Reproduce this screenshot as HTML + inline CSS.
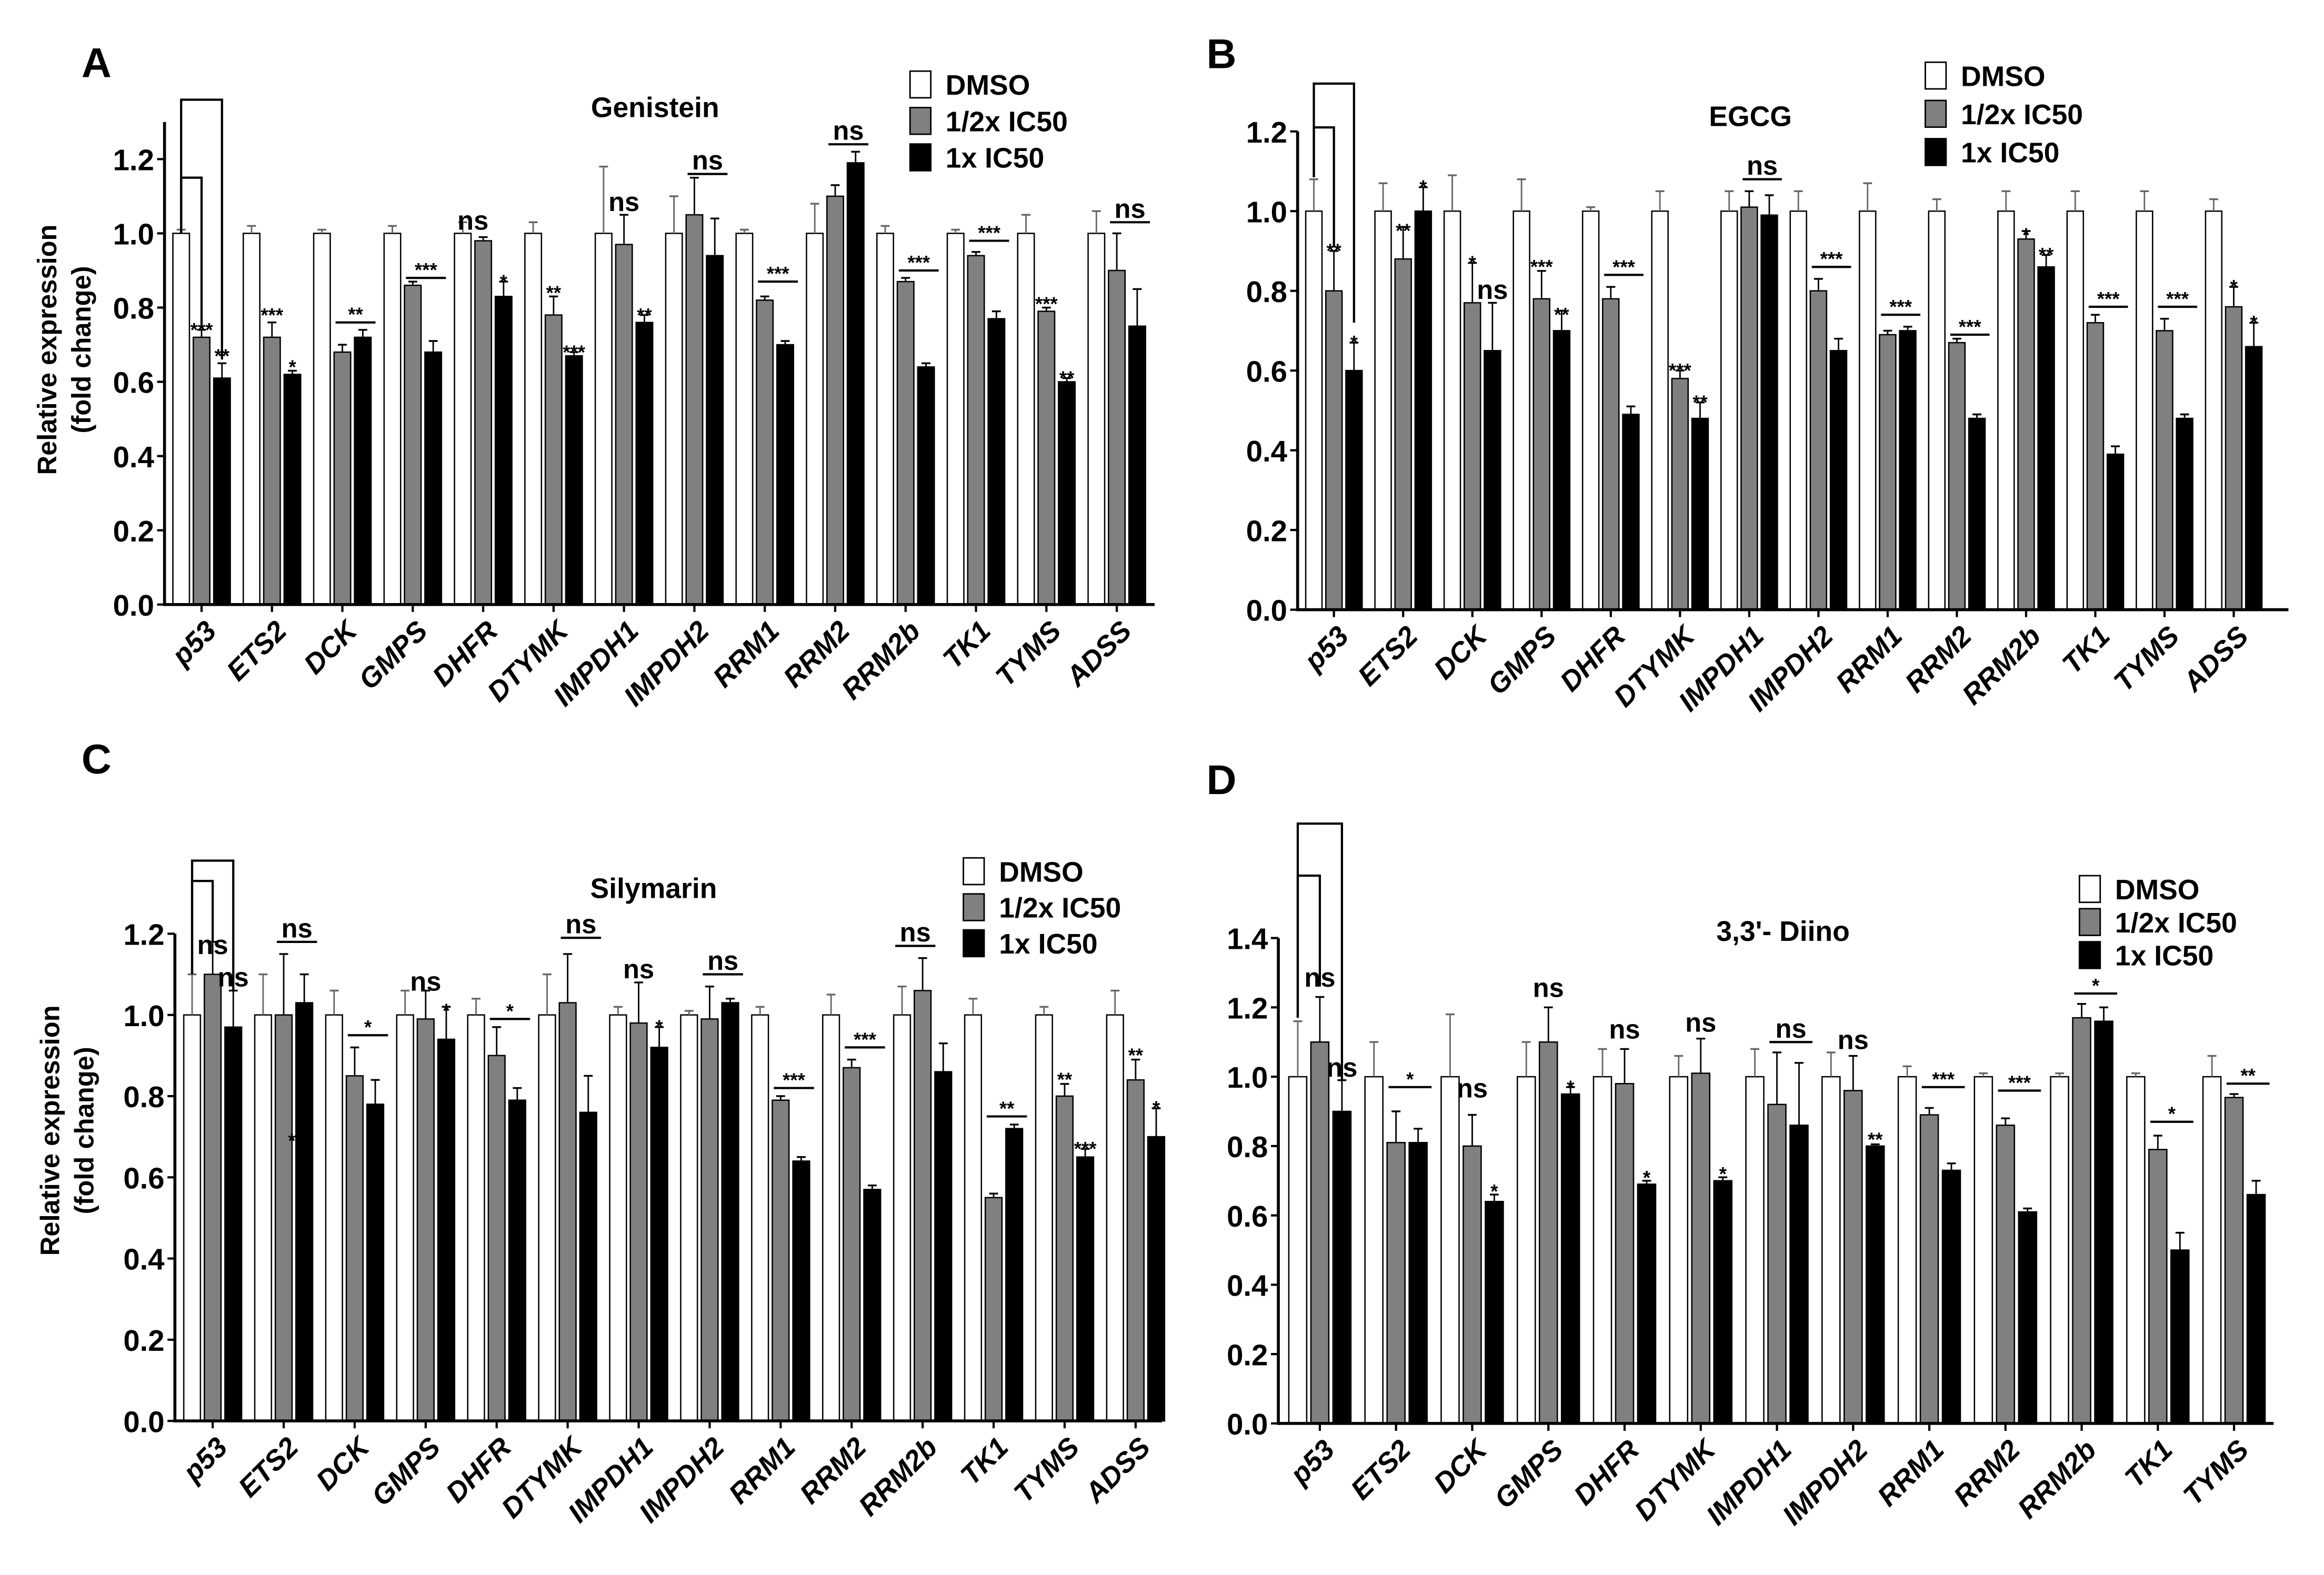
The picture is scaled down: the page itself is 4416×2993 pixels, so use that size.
<!DOCTYPE html>
<html><head><meta charset="utf-8">
<style>
html,body{margin:0;padding:0;background:#fff;}
svg{display:block;}
text{font-family:"Liberation Sans",Arial,sans-serif;font-weight:bold;fill:#000;}
</style></head>
<body>
<svg id="fig" width="4416" height="2993" viewBox="0 0 1568 1063" preserveAspectRatio="none" xmlns="http://www.w3.org/2000/svg">
<rect x="0" y="0" width="1568" height="1063" fill="#fff"/>
</svg>
<script>
// ---------- Data ----------
const genes14 = ["p53","ETS2","DCK","GMPS","DHFR","DTYMK","IMPDH1","IMPDH2","RRM1","RRM2","RRM2b","TK1","TYMS","ADSS"];
const genes13 = ["p53","ETS2","DCK","GMPS","DHFR","DTYMK","IMPDH1","IMPDH2","RRM1","RRM2","RRM2b","TK1","TYMS"];
const seriesNames = ["DMSO","1/2x IC50","1x IC50"];

// Panel A – Genistein
const dmsoA = [1,1,1,1,1,1,1,1,1,1,1,1,1,1];
const halfA = [0.72,0.72,0.68,0.86,0.98,0.78,0.97,1.05,0.82,1.10,0.87,0.94,0.79,0.90];
const fullA = [0.61,0.62,0.72,0.68,0.83,0.67,0.76,0.94,0.70,1.19,0.64,0.77,0.60,0.75];
const errDmsoA = [0.01,0.02,0.01,0.02,0.03,0.03,0.18,0.10,0.01,0.08,0.02,0.01,0.05,0.06];
const errHalfA = [0.02,0.04,0.02,0.01,0.01,0.05,0.08,0.10,0.01,0.03,0.01,0.01,0.01,0.10];
const errFullA = [0.04,0.01,0.02,0.03,0.04,0.01,0.02,0.10,0.01,0.03,0.01,0.02,0.01,0.10];
const ticksA = [0,0.2,0.4,0.6,0.8,1.0,1.2];
const annA = [[0,1,0.75,"***"],[0,2,0.68,"**"],[1,1,0.79,"***"],[1,2,0.65,"*"],[2,"L",0.76,"**"],[3,"L",0.88,"***"],
  [4,0.5,1.01,"ns"],[4,2,0.88,"*"],[5,1,0.85,"**"],[5,2,0.69,"***"],[6,1,1.06,"ns"],[6,2,0.79,"**"],[7,"L",1.16,"ns"],
  [8,"L",0.87,"***"],[9,"L",1.24,"ns"],[10,"L",0.90,"***"],[11,"L",0.98,"***"],[12,1,0.82,"***"],[12,2,0.62,"**"],[13,"L",1.03,"ns"]];
const brkA = [[1,1.15,0.75],[2,1.36,0.66]];

// Panel B – EGCG
const dmsoB = [1,1,1,1,1,1,1,1,1,1,1,1,1,1];
const halfB = [0.80,0.88,0.77,0.78,0.78,0.58,1.01,0.80,0.69,0.67,0.93,0.72,0.70,0.76];
const fullB = [0.60,1.00,0.65,0.70,0.49,0.48,0.99,0.65,0.70,0.48,0.86,0.39,0.48,0.66];
const errDmsoB = [0.08,0.07,0.09,0.08,0.01,0.05,0.05,0.05,0.07,0.03,0.05,0.05,0.05,0.03];
const errHalfB = [0.10,0.08,0.10,0.07,0.03,0.02,0.04,0.03,0.01,0.01,0.02,0.02,0.03,0.05];
const errFullB = [0.07,0.06,0.12,0.05,0.02,0.04,0.05,0.03,0.01,0.01,0.03,0.02,0.01,0.06];
const ticksB = [0,0.2,0.4,0.6,0.8,1.0,1.2];
const annB = [[0,1,0.91,"**"],[0,2,0.68,"*"],[1,1,0.96,"**"],[1,2,1.07,"*"],[2,1,0.88,"*"],[2,2,0.78,"ns"],[3,1,0.87,"***"],[3,2,0.75,"**"],
  [4,"L",0.84,"***"],[5,1,0.61,"***"],[5,2,0.53,"**"],[6,"L",1.08,"ns"],[7,"L",0.86,"***"],[8,"L",0.74,"***"],[9,"L",0.69,"***"],
  [10,1,0.95,"*"],[10,2,0.90,"**"],[11,"L",0.76,"***"],[12,"L",0.76,"***"],[13,1,0.82,"*"],[13,2,0.73,"*"]];
const brkB = [[1,1.21,0.91],[2,1.32,0.72]];

// Panel C – Silymarin
const dmsoC = [1,1,1,1,1,1,1,1,1,1,1,1,1,1];
const halfC = [1.10,1.00,0.85,0.99,0.90,1.03,0.98,0.99,0.79,0.87,1.06,0.55,0.80,0.84];
const fullC = [0.97,1.03,0.78,0.94,0.79,0.76,0.92,1.03,0.64,0.57,0.86,0.72,0.65,0.70];
const errDmsoC = [0.10,0.10,0.06,0.06,0.04,0.10,0.02,0.01,0.02,0.05,0.07,0.04,0.02,0.06];
const errHalfC = [0.08,0.15,0.07,0.07,0.07,0.12,0.10,0.08,0.01,0.02,0.08,0.01,0.03,0.05];
const errFullC = [0.09,0.07,0.06,0.08,0.03,0.09,0.05,0.01,0.01,0.01,0.07,0.01,0.02,0.07];
const ticksC = [0,0.2,0.4,0.6,0.8,1.0,1.2];
const annC = [[0,1,1.15,"ns"],[0,2,1.07,"ns"],[1,"L",1.18,"ns"],[1,1.4,0.70,"*"],[2,"L",0.95,"*"],[3,1,1.06,"ns"],[3,2,1.02,"*"],
  [4,"L",0.99,"*"],[5,"L",1.19,"ns"],[6,1,1.09,"ns"],[6,2,0.98,"*"],[7,"L",1.10,"ns"],[8,"L",0.82,"***"],[9,"L",0.92,"***"],
  [10,"M",1.17,"ns"],[11,"L",0.75,"**"],[12,1,0.85,"**"],[12,2,0.68,"***"],[13,1,0.91,"**"],[13,2,0.78,"*"]];
const brkC = [[1,1.33,1.18],[2,1.38,1.06]];

// Panel D – 3,3'-Diino
const dmsoD = [1,1,1,1,1,1,1,1,1,1,1,1,1];
const halfD = [1.10,0.81,0.80,1.10,0.98,1.01,0.92,0.96,0.89,0.86,1.17,0.79,0.94];
const fullD = [0.90,0.81,0.64,0.95,0.69,0.70,0.86,0.80,0.73,0.61,1.16,0.50,0.66];
const errDmsoD = [0.16,0.10,0.18,0.10,0.08,0.06,0.08,0.07,0.03,0.01,0.01,0.01,0.06];
const errHalfD = [0.13,0.09,0.09,0.10,0.10,0.10,0.15,0.10,0.02,0.02,0.04,0.04,0.01];
const errFullD = [0.09,0.04,0.02,0.02,0.01,0.01,0.18,0.005,0.02,0.01,0.04,0.05,0.04];
const ticksD = [0,0.2,0.4,0.6,0.8,1.0,1.2,1.4];
const annD = [[0,1,1.26,"ns"],[0,2,1.00,"ns"],[1,"L",0.97,"*"],[2,1,0.94,"ns"],[2,2,0.68,"*"],[3,1,1.23,"ns"],[3,2,0.98,"*"],
  [4,1,1.11,"ns"],[4,2,0.72,"*"],[5,1,1.13,"ns"],[5,2,0.73,"*"],[6,"L",1.10,"ns"],[7,1,1.08,"ns"],[7,2,0.83,"**"],
  [8,"L",0.97,"***"],[9,"L",0.96,"***"],[10,"L",1.24,"*"],[11,"L",0.87,"*"],[12,"L",0.98,"**"]];
const brkD = [[1,1.58,1.26],[2,1.73,0.99]];

// ---------- Drawing ----------
const svg = document.getElementById('fig');
const NS = "http://www.w3.org/2000/svg";
function mk(tag, attrs, parent){
  const e = document.createElementNS(NS, tag);
  for (const k in attrs) e.setAttribute(k, attrs[k]);
  (parent||svg).appendChild(e);
  return e;
}
const fills = ["#ffffff","#808080","#000000"];

function drawPanel(L, genes, vals, errs, ticks, ann, brk){
  const g = mk('g', {});
  
  
  const yS = v => L.y0 - v * L.k;
  const xC = i => L.tx0 + i * L.sp;
  const step = 0.29 * L.sp, bw = 0.235 * L.sp;
  const bx = (i, j) => xC(i) + (j - 1) * step;

  const lt = mk('text', {x:L.lx, y:L.ly, 'font-size':28}, g); lt.textContent = L.letter;
  
  
  const tt = mk('text', {x:L.titleX, y:L.titleY, 'font-size':19, 'text-anchor':'middle'}, g); tt.textContent = L.title;
  
  
  if (L.ytitle) {
    const yt = mk('text', {x:0, y:0, 'font-size':18, 'text-anchor':'middle', transform:`translate(${L.ytx},${L.yty}) rotate(-90)`}, g);
    
    
    const t1 = mk('tspan', {x:0, dy:0}, yt); t1.textContent = "Relative expression";
    const t2 = mk('tspan', {x:0, dy:23}, yt); t2.textContent = "(fold change)";
  }
  genes.forEach((gn, i) => {
    for (let j = 0; j < 3; j++) {
      const v = vals[j][i], e = errs[j][i];
      const cx = bx(i, j);
      const r = mk('rect', {x:cx - bw/2, y:yS(v), width:bw, height:yS(0) - yS(v), fill:fills[j], stroke:'#000', 'stroke-width':0.9}, g);
      
      
      const ec = j === 0 ? '#666' : '#000';
      mk('line', {x1:cx, x2:cx, y1:yS(v), y2:yS(v + e), stroke:ec, 'stroke-width':1}, g);
      mk('line', {x1:cx - 3, x2:cx + 3, y1:yS(v + e), y2:yS(v + e), stroke:ec, 'stroke-width':1.2}, g);
    }
    mk('line', {x1:xC(i), x2:xC(i), y1:L.y0, y2:L.y0 + 5, stroke:'#000', 'stroke-width':1.5}, g);
    const xt = mk('text', {x:0, y:0, 'font-size':19, 'font-style':'italic', 'text-anchor':'end',
      transform:`translate(${xC(i) + 11},${L.y0 + 19}) rotate(-45)`}, g);
    xt.textContent = gn;
    
    
  });
  mk('line', {x1:L.x0, x2:L.x1, y1:L.y0, y2:L.y0, stroke:'#000', 'stroke-width':2}, g);
  mk('line', {x1:L.x0, x2:L.x0, y1:L.y0 + 1, y2:yS(L.ytop), stroke:'#000', 'stroke-width':2}, g);
  ticks.forEach(t => {
    mk('line', {x1:L.x0 - 5, x2:L.x0, y1:yS(t), y2:yS(t), stroke:'#000', 'stroke-width':1.5}, g);
    const yl = mk('text', {x:L.x0 - 7, y:yS(t) + 7.5, 'font-size':20, 'text-anchor':'end'}, g);
    yl.textContent = t.toFixed(1);
    
    
  });
  ann.forEach(a => {
    const [i, kind, v, txt] = a;
    const fs = txt === 'ns' ? 18 : 13;
    const dy = txt === 'ns' ? 0 : 7;
    let tx, ty = yS(v);
    if (kind === 'L' || kind === 'M') {
      const a0 = kind === 'L' ? 1 : 0, a1 = kind === 'L' ? 2 : 1;
      const xa = bx(i, a0) - bw/2 + 1, xb = bx(i, a1) + bw/2 + 3;
      mk('line', {x1:xa, x2:xb, y1:ty, y2:ty, stroke:'#000', 'stroke-width':1.5}, g);
      tx = (xa + xb) / 2; ty = ty - 3 + dy * 0.3;
    } else {
      tx = bx(i, kind); ty = ty + dy;
    }
    const at = mk('text', {x:tx, y:ty, 'font-size':fs, 'text-anchor':'middle'}, g);
    at.textContent = txt;
    
    
  });
  brk.forEach(b => {
    const [to, top, end] = b;
    const xa = bx(0, 0), xb = bx(0, to);
    const p = mk('polyline', {points:`${xa},${yS(L.bstart)} ${xa},${yS(top)} ${xb},${yS(top)} ${xb},${yS(end)}`, fill:'none', stroke:'#000', 'stroke-width':1.5}, g);
    
    
  });
  const lg = mk('g', {}, g);
  
  
  seriesNames.forEach((s, j) => {
    const y = L.legY + j * L.legDy;
    mk('rect', {x:L.legX, y:y, width:14, height:18, fill:fills[j], stroke:'#000', 'stroke-width':1}, lg);
    const lt2 = mk('text', {x:L.legX + 24, y:y + 16, 'font-size':19}, lg);
    lt2.textContent = s;
    
    
  });
}

drawPanel({name:'panel-a', letter:'A', lx:55, ly:52, title:'Genistein', titleX:442, titleY:79, ytitle:true, ytx:38, yty:236,
  x0:111, x1:779, y0:408, k:250.5, ytop:1.30, tx0:136, sp:47.5, bstart:1.0, legX:614, legY:48, legDy:24.6},
  genes14, [dmsoA, halfA, fullA], [errDmsoA, errHalfA, errFullA], ticksA, annA, brkA);

drawPanel({name:'panel-b', letter:'B', lx:814, ly:46, title:'EGCG', titleX:1181, titleY:85, ytitle:false,
  x0:875.5, x1:1544, y0:411.5, k:269, ytop:1.2, tx0:900, sp:46.7, bstart:1.085, legX:1299, legY:42, legDy:25.8},
  genes14, [dmsoB, halfB, fullB], [errDmsoB, errHalfB, errFullB], ticksB, annB, brkB);

drawPanel({name:'panel-c', letter:'C', lx:55, ly:522, title:'Silymarin', titleX:441, titleY:606, ytitle:true, ytx:40, yty:763,
  x0:118, x1:784, y0:959, k:274, ytop:1.2, tx0:143.5, sp:47.9, bstart:1.10, legX:650, legY:579, legDy:24.3},
  genes14, [dmsoC, halfC, fullC], [errDmsoC, errHalfC, errFullC], ticksC, annC, brkC);

drawPanel({name:'panel-d', letter:'D', lx:814, ly:536, title:"3,3'- Diino", titleX:1203, titleY:635, ytitle:false,
  x0:862.5, x1:1534, y0:960.7, k:234, ytop:1.4, tx0:890.5, sp:51.4, bstart:1.17, legX:1403, legY:591, legDy:22.3},
  genes13, [dmsoD, halfD, fullD], [errDmsoD, errHalfD, errFullD], ticksD, annD, brkD);
</script>
</body></html>
